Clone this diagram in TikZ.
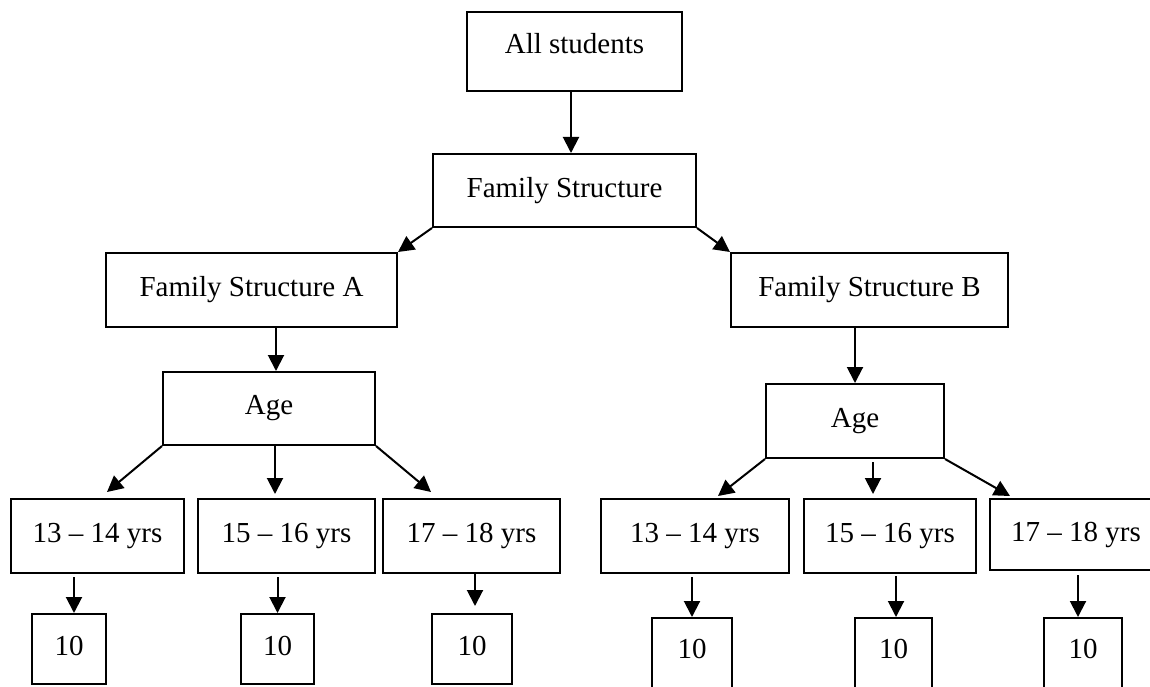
\documentclass[tikz,border=0pt]{standalone}
\usepackage{fontspec}
\setmainfont{Liberation Serif}
\usetikzlibrary{arrows.meta,calc}
\begin{document}
\begin{tikzpicture}[x=1pt,y=-1pt,
  box/.style 2 args={draw, line width=2pt, inner sep=0pt,
    minimum width=#1, minimum height=#2,
    font=\fontsize{29}{34}\selectfont},
  arr/.style={line width=2pt, -{Triangle[length=16pt,width=16pt]}}]
  \useasboundingbox (0,0) rectangle (1150,687);
  \clip (0,0) rectangle (1150,687);

  % top levels
  \node[box={215pt}{79pt}] (all) at (574.5,51.5) {\raisebox{17pt}{All students}};
  \node[box={263pt}{73pt}] (fs) at (564.5,190.5) {\raisebox{5pt}{Family Structure}};
  \node[box={291pt}{74pt}] (fsa) at (251.5,290) {\raisebox{5pt}{Family Structure A}};
  \node[box={277pt}{74pt}] (fsb) at (869.5,290) {\raisebox{5pt}{Family Structure B}};
  \node[box={212pt}{73pt}] (agea) at (269,408.5) {\raisebox{5pt}{Age}};
  \node[box={178pt}{74pt}] (ageb) at (855,421) {\raisebox{5pt}{Age}};

  % age groups, branch A
  \node[box={173pt}{74pt}] (la1) at (97.5,536) {\raisebox{5pt}{13 – 14 yrs}};
  \node[box={177pt}{74pt}] (la2) at (286.5,536) {\raisebox{5pt}{15 – 16 yrs}};
  \node[box={177pt}{74pt}] (la3) at (471.5,536) {\raisebox{5pt}{17 – 18 yrs}};
  % age groups, branch B
  \node[box={188pt}{74pt}] (lb1) at (695,536) {\raisebox{5pt}{13 – 14 yrs}};
  \node[box={172pt}{74pt}] (lb2) at (890,536) {\raisebox{5pt}{15 – 16 yrs}};
  \node[box={172pt}{71pt}] (lb3) at (1076,534.5) {\raisebox{5pt}{17 – 18 yrs}};

  % counts
  \node[box={74pt}{70pt}] (ta1) at (69,649) {\raisebox{6pt}{10}};
  \node[box={73pt}{70pt}] (ta2) at (277.5,649) {\raisebox{6pt}{10}};
  \node[box={80pt}{70pt}] (ta3) at (472,649) {\raisebox{6pt}{10}};
  \node[box={80pt}{82pt}] (tb1) at (692,659) {\raisebox{20pt}{10}};
  \node[box={77pt}{82pt}] (tb2) at (893.5,659) {\raisebox{20pt}{10}};
  \node[box={78pt}{82pt}] (tb3) at (1083,659) {\raisebox{20pt}{10}};

  % connectors
  \draw[arr] ([xshift=-3.5pt]all.south) -- ([xshift=-3.5pt]all.south |- fs.north);
  \draw[arr] (fs.south west) -- (fsa.north east);
  \draw[arr] (fs.south east) -- (fsb.north west);
  \draw[arr] ([xshift=24.5pt]fsa.south) -- ([xshift=24.5pt]fsa.south |- agea.north);
  \draw[arr] (ageb.north |- fsb.south) -- (ageb.north);

  \draw[arr] (agea.south west) -- ([xshift=9.5pt,yshift=6pt]la1.north);
  \draw[arr] ([xshift=6pt]agea.south) -- ([xshift=6pt,yshift=4pt]agea.south |- la2.north);
  \draw[arr] (agea.south east) -- ([xshift=49pt,yshift=6pt]la3.north west);

  \draw[arr] (ageb.south west) -- ([xshift=23pt,yshift=2pt]lb1.north);
  \draw[arr] ([xshift=18pt,yshift=-3pt]ageb.south) -- ([xshift=18pt,yshift=4pt]ageb.south |- lb2.north);
  \draw[arr] (ageb.south east) -- ([xshift=21pt,yshift=2pt]lb3.north west);

  \draw[arr] ([xshift=5pt,yshift=-3pt]ta1.north |- la1.south) -- ([xshift=5pt]ta1.north);
  \draw[arr] ([yshift=-3pt]ta2.north |- la2.south) -- (ta2.north);
  \draw[arr] ([xshift=3pt]ta3.north |- la3.south) -- ([xshift=3pt,yshift=7pt]ta3.north);
  \draw[arr] ([yshift=-3pt]tb1.north |- lb1.south) -- (tb1.north);
  \draw[arr] ([xshift=2.5pt,yshift=-2pt]tb2.north |- lb2.south) -- ([xshift=2.5pt]tb2.north);
  \draw[arr] ([xshift=-5pt,yshift=-4pt]tb3.north |- lb3.south) -- ([xshift=-5pt]tb3.north);
\end{tikzpicture}
\end{document}
